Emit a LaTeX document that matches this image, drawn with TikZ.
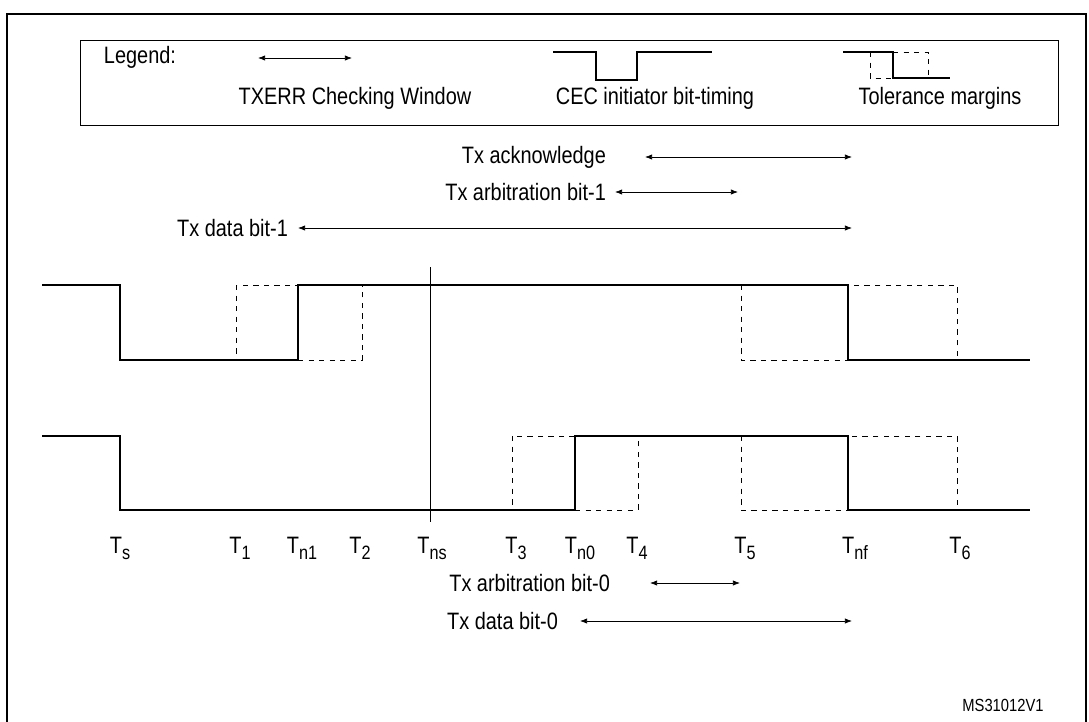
\documentclass[tikz,border=0pt]{standalone}
\usepackage{fontspec}
\setmainfont[FakeStretch=0.84]{Liberation Sans}
\usetikzlibrary{arrows.meta}
\newcommand{\tsub}[1]{T\raisebox{-0.45ex}{\fontsize{11}{12}\selectfont #1}}
\begin{document}
\begin{tikzpicture}[x = 0.02cm, y = -0.02cm,
  lbl/.style = {font = \fontsize{13.5}{15}\selectfont, inner sep = 1pt},
  win/.style = {{Latex[length=4pt,width=3pt]}-{Latex[length=4pt,width=3pt]}, thin},
  sig/.style = {line width = 1.4pt},
  tol/.style = {dashed, thin}]
\useasboundingbox (0, 0) rectangle (1089, 721);
\draw[thick] (7, 730) -- (7, 14) -- (1086, 14) -- (1086, 730);

% legend
\draw (80, 40) rectangle (1058, 125);
\node[lbl] at (140, 57) (leg) {Legend:};
\coordinate (wa) at (258, 58);
\coordinate (wb) at (352, 58);
\draw[win] (wa) -- (wb);
\node[lbl] at (355, 98) (lw) {TXERR Checking Window};
\draw[thick] (553, 52) -- (596, 52) -- (596, 80) -- (637, 80) -- (637, 52) -- (712, 52);
\node[lbl] at (655, 98) (lc) {CEC initiator bit-timing};
\draw[thick] (843, 52) -- (893, 52) -- (893, 78) -- (950, 78);
\draw[tol] (893, 52) -- (928, 52) -- (928, 78);
\draw[tol] (870, 52) -- (870, 78) -- (893, 78);
\node[lbl] at (940, 98) (lt) {Tolerance margins};

% checking windows
\node[lbl, anchor = east] at (608, 157) (ack) {Tx acknowledge};
\node[lbl, anchor = east] at (608, 192) (arb1) {Tx arbitration bit-1};
\node[lbl, anchor = east] at (290, 228) (dat1) {Tx data bit-1};
\coordinate (ack1) at (645, 157);  \coordinate (ack2) at (852, 157);
\coordinate (a11) at (615, 192);   \coordinate (a12) at (738, 192);
\coordinate (d11) at (298, 228);   \coordinate (d12) at (852, 228);
\draw[win] (ack1) -- (ack2);
\draw[win] (a11) -- (a12);
\draw[win] (d11) -- (d12);

% bit 1
\draw[tol] (236, 285) rectangle (362, 360);
\draw[tol] (741, 285) rectangle (957, 360);
\draw[sig] (42, 285) -- (120, 285) -- (120, 360) -- (298, 360) -- (298, 285)
  -- (848, 285) -- (848, 360) -- (1030, 360);

% bit 0
\draw[tol] (512, 436) rectangle (638, 510);
\draw[tol] (741, 436) rectangle (957, 510);
\draw[sig] (42, 436) -- (120, 436) -- (120, 510) -- (575, 510) -- (575, 436)
  -- (848, 436) -- (848, 510) -- (1030, 510);

\coordinate (ns1) at (430, 267);
\coordinate (ns2) at (430, 522);
\draw (ns1) -- (ns2);

% time marks
\foreach \x/\t in {120/s, 240/1, 302/n1, 360/2, 432/ns, 516/3, 580/n0, 637/4,
  745/5, 855/nf, 960/6}
  \node[lbl, anchor = north] at (\x, 535) {\tsub{\t}};

\node[lbl, anchor = east] at (612, 583) (arb0) {Tx arbitration bit-0};
\node[lbl, anchor = east] at (560, 621) (dat0) {Tx data bit-0};
\coordinate (a01) at (650, 583);   \coordinate (a02) at (740, 583);
\coordinate (d01) at (580, 621);   \coordinate (d02) at (852, 621);
\draw[win] (a01) -- (a02);
\draw[win] (d01) -- (d02);

\node[font = \fontsize{10}{11}\selectfont] at (1003, 705) (id) {MS31012V1};
\end{tikzpicture}
\end{document}
